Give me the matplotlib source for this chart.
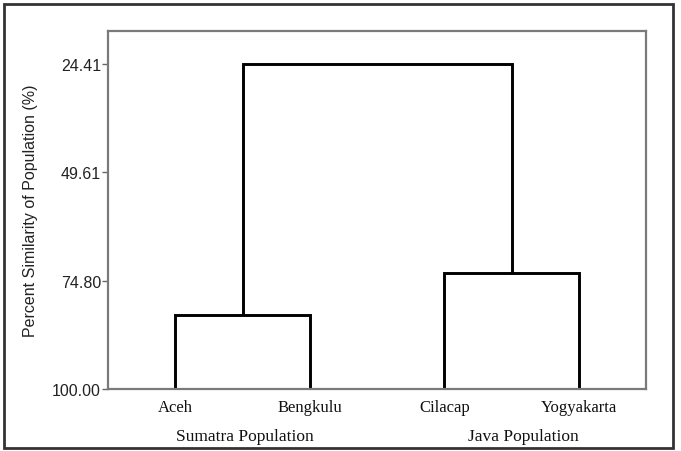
import matplotlib
matplotlib.use("Agg")
import matplotlib.pyplot as plt
from matplotlib.patches import Rectangle
import matplotlib.transforms as mtransforms

# Data
leaves = ["Aceh", "Bengkulu", "Cilacap", "Yogyakarta"]
groups = ["Sumatra Population", "Java Population"]
merge_sumatra = 82.72   # Aceh + Bengkulu
merge_java = 73.02      # Cilacap + Yogyakarta
merge_root = 24.41      # Sumatra + Java
yticks = [24.41, 49.61, 74.80, 100.00]
ytick_labels = ["24.41", "49.61", "74.80", "100.00"]

W, H = 681, 452
fig = plt.figure(figsize=(W / 100, H / 100), dpi=100)
ax = fig.add_axes([108 / W, (H - 390) / H, (646 - 108) / W, (390 - 32) / H])

xs = [1, 2, 3, 4]
base = 100.0
lw = 2.1
kw = dict(color="black", lw=lw, solid_joinstyle="miter", solid_capstyle="butt")

# Sumatra cluster
ax.plot([xs[0], xs[0], xs[1], xs[1]], [base, merge_sumatra, merge_sumatra, base], **kw)
# Java cluster
ax.plot([xs[2], xs[2], xs[3], xs[3]], [base, merge_java, merge_java, base], **kw)
# Root
c1 = (xs[0] + xs[1]) / 2
c2 = (xs[2] + xs[3]) / 2
ax.plot([c1, c1, c2, c2], [merge_sumatra, merge_root, merge_root, merge_java], **kw)

ax.set_xlim(0.5, 4.5)
ax.set_ylim(100, 16.7)

ax.set_yticks(yticks)
ax.set_yticklabels(ytick_labels, fontsize=11.5, family="Liberation Sans", color="#222222")
ax.tick_params(axis="y", length=4, width=1, color="#666666", pad=1)

ax.set_xticks(xs)
ax.set_xticklabels(leaves, fontsize=12, family="Liberation Serif", color="#111111")
ax.tick_params(axis="x", length=0, pad=7)

for s in ax.spines.values():
    s.set_color("#7a7a7a")
    s.set_linewidth(1.6)

ax.set_ylabel("Percent Similarity of Population (%)", fontsize=11.5,
              family="Liberation Sans", color="#222222", labelpad=10)

trans = mtransforms.blended_transform_factory(ax.transData, fig.transFigure)
ax.text(c1 + 0.02, 1 - 437 / H, groups[0], transform=trans, ha="center", va="center",
        fontsize=12.5, family="Liberation Serif", color="#111111")
ax.text(c2 + 0.085, 1 - 437 / H, groups[1], transform=trans, ha="center", va="center",
        fontsize=12.5, family="Liberation Serif", color="#111111")

# Outer frame
fig.patches.append(Rectangle((4 / W, 3 / H), (673 - 4) / W, (447 - 3) / H,
                             transform=fig.transFigure, fill=False,
                             edgecolor="#333333", linewidth=2))

fig.savefig("out.png", dpi=100)
